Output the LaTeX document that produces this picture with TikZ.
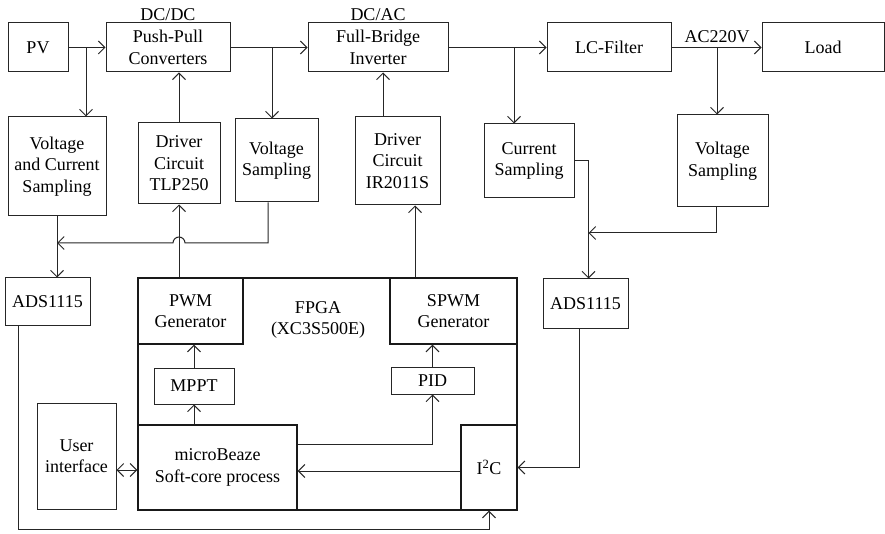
\documentclass[tikz,border=0pt]{standalone}
\usepackage{fontspec}
\setmainfont{Liberation Serif}
\usetikzlibrary{arrows.meta, positioning, calc}

\begin{document}
\begin{tikzpicture}[
    x=1pt, y=-1pt,
    box/.style={
      rectangle, draw=black!85, line width=1pt, inner sep=0pt,
      align=center, font=\fontsize{18}{21.5}\selectfont
    },
    fpart/.style={box, draw=black!90, line width=1.4pt},
    wh/.style 2 args={minimum width=#1pt, minimum height=#2pt},
    lbl/.style={inner sep=0pt, align=center, font=\fontsize{18}{21.5}\selectfont},
    arr/.style={-{Straight Barb[length=6.5pt,width=13pt]}, line width=1pt, draw=black!85},
    darr/.style={{Straight Barb[length=6.5pt,width=13pt]}-{Straight Barb[length=6.5pt,width=13pt]}, line width=1pt, draw=black!85}
  ]
  \useasboundingbox (0,0) rectangle (885,534);

  \node[box, wh={60}{49}]  (pv)     at (38,47.5)  {PV};
  \node[box, wh={124}{49}] (push)   at (168,47.5) {Push-Pull\\Converters};
  \node[box, wh={140}{49}] (bridge) at (378,47.5) {Full-Bridge\\Inverter};
  \node[box, wh={124}{49}] (lcf)    at (609,47.5) {LC-Filter};
  \node[box, wh={122}{49}] (load)   at (823,47.5) {Load};
  \node[lbl, above=2pt of push]   (dcdc) {DC/DC};
  \node[lbl, above=2pt of bridge] (dcac) {DC/AC};

  \node[box, wh={98}{99}] (vcs)  at (57,166.5)   {Voltage\\and Current\\Sampling};
  \node[box, wh={82}{81}] (drvA) at (179,163.5)  {Driver\\Circuit\\TLP250};
  \node[box, wh={83}{83}] (vsA)  at (276.5,160.5) {Voltage\\Sampling};
  \node[box, wh={85}{88}] (drvB) at (397.5,161)  {Driver\\Circuit\\IR2011S};
  \node[box, wh={90}{74}] (cs)   at (529,161)    {Current\\Sampling};
  \node[box, wh={91}{92}] (vsB)  at (722.5,161)  {Voltage\\Sampling};

  \node[box, wh={85}{47}] (adsA) at (47.5,301.5)  {ADS1115};
  \node[box, wh={85}{49}] (adsB) at (585.5,303.5) {ADS1115};

  \node[fpart, wh={379}{232}] (fpga) at (327.5,394) {};
  \node[fpart, wh={105}{66}] (pwm)  at (190.5,311) {PWM\\Generator};
  \node[fpart, wh={127}{66}] (spwm) at (453.5,311) {SPWM\\Generator};
  \node[lbl] (fpgalbl) at (318,320) {FPGA\\(XC3S500E)};
  \node[box, wh={80}{36}] (mppt) at (194,386)     {MPPT};
  \node[box, wh={83}{27}] (pid)  at (432.5,380.5) {PID};
  \node[box, wh={79}{106}] (ui)  at (76.5,456)    {User\\interface};
  \node[fpart, wh={159}{85}] (mb)  at (217.5,467.5) {microBeaze\\Soft-core process};
  \node[fpart, wh={56}{85}]  (i2c) at (489,467.5)   {I\textsuperscript{2}C};

  \coordinate (jA) at (86,47.5);
  \coordinate (jB) at (272,47.5);
  \coordinate (jC) at (514,47.5);
  \coordinate (jD) at (717,47.5);
  \coordinate (vj) at (57,243);
  \coordinate (vk) at (0,233);
  \coordinate (bt) at (0,529);
  \node[lbl, above=5pt of jD] (acv) {AC220V};

  \draw[arr] (pv) -- (push);
  \draw[arr] (jA) -- (jA |- vcs.north);
  \draw[arr] (push) -- (bridge);
  \draw[arr] (jB) -- (jB |- vsA.north);
  \draw[arr] (bridge) -- (lcf);
  \draw[arr] (jC) -- (jC |- cs.north);
  \draw[arr] (lcf) -- (load);
  \draw[arr] (jD) -- (jD |- vsB.north);

  \draw[arr] (drvA.north) -- (drvA.north |- push.south);
  \draw[arr] ([xshift=-14.5pt]drvB.north) -- ([xshift=-14.5pt]drvB.north |- bridge.south);
  \draw[arr] (drvA.south |- fpga.north) -- (drvA.south);
  \draw[arr] ([xshift=17.5pt]drvB.south |- fpga.north) -- ([xshift=17.5pt]drvB.south);

  \draw[arr] (vcs.south) -- (vcs.south |- adsA.north);
  \draw[arr] ([xshift=-8.5pt]vsA.south) |- ([xshift=6pt]drvA.south |- vj)
    arc[start angle=0, end angle=180, radius=6pt] -- (vj);
  \draw[arr] (cs.east) -| ([xshift=3pt]adsB.north);
  \draw[arr] ([xshift=-6.5pt]vsB.south) |- ([xshift=3pt]adsB.north |- vk);
  \draw[arr] ([xshift=-6.5pt]adsB.south) |- (i2c.east);
  \draw[arr] ([xshift=-29.5pt]adsA.south) |- (i2c.south |- bt) -- (i2c.south);

  \draw[arr] (mppt.north) -- (mppt.north |- pwm.south);
  \draw[arr] (mppt.south |- mb.north) -- (mppt.south);
  \draw[arr] (pid.north) -- (pid.north |- spwm.south);
  \draw[arr] ([yshift=23.5pt]mb.east) -| (pid.south);
  \draw[arr] ([yshift=-3.5pt]i2c.west) -- ([yshift=-3.5pt]i2c.west -| mb.east);
  \draw[darr] ([yshift=-2.5pt]mb.west) -- ([yshift=-2.5pt]mb.west -| ui.east);
\end{tikzpicture}
\end{document}
